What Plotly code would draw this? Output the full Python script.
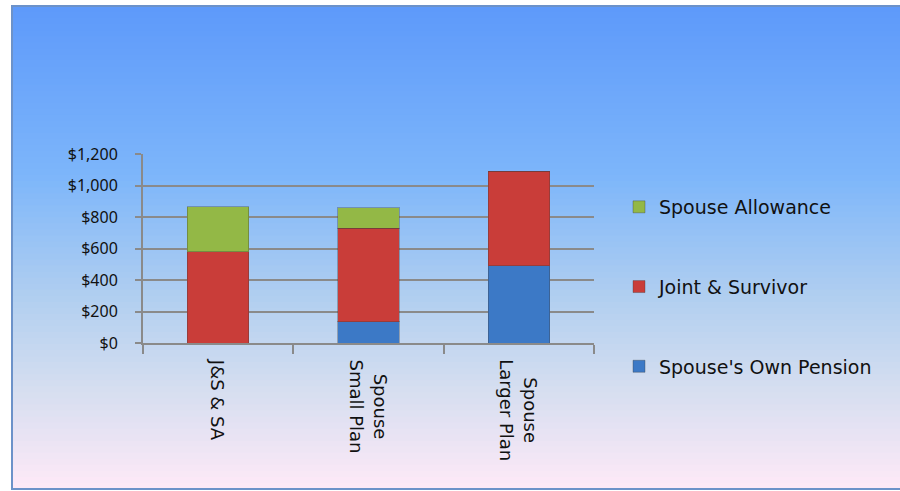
import plotly.graph_objects as go

categories = ["J&S & SA", "Spouse Small Plan", "Spouse Larger Plan"]
tick_text = ["J&S & SA", "Spouse<br>Small Plan", "Spouse<br>Larger Plan"]
own_pension = [0, 134, 490]
joint_survivor = [579, 594, 602]
spouse_allowance = [286, 131, 0]

W, H = 900, 491
L, R, T, B = 143, 306, 154, 148
pw, ph = W - L - R, H - T - B

def px_x(x):
    return (x - L) / pw

def px_y(y):
    return (H - B - y) / ph

# vertical background gradient (top -> bottom)
stops = [(0.0, (94, 154, 250)), (0.35, (125, 182, 250)), (0.6, (176, 206, 240)),
         (0.8, (214, 222, 240)), (1.0, (253, 233, 247))]

def grad(t):
    for (t0, c0), (t1, c1) in zip(stops, stops[1:]):
        if t <= t1:
            f = (t - t0) / (t1 - t0)
            return "rgb(%d,%d,%d)" % tuple(round(a + (b - a) * f) for a, b in zip(c0, c1))
    return "rgb(%d,%d,%d)" % stops[-1][1]

top_px, bot_px, left_px = 6, 489, 12
n = 80
shapes = []
for i in range(n):
    y0 = top_px + (bot_px - top_px) * i / n
    y1 = min(top_px + (bot_px - top_px) * (i + 1) / n + 2, bot_px)
    shapes.append(dict(type="rect", xref="paper", yref="paper", layer="below",
                       x0=px_x(left_px), x1=px_x(W + 2), y0=px_y(y0), y1=px_y(y1),
                       fillcolor=grad(i / (n - 1)), line=dict(width=0)))
shapes.append(dict(type="rect", xref="paper", yref="paper", layer="below",
                   x0=px_x(left_px), x1=px_x(W + 5), y0=px_y(top_px), y1=px_y(bot_px),
                   fillcolor="rgba(0,0,0,0)", line=dict(color="#6c92c9", width=2)))

fig = go.Figure()
series = [("Spouse's Own Pension", own_pension, "#3c79c6"),
          ("Joint & Survivor", joint_survivor, "#c93d39"),
          ("Spouse Allowance", spouse_allowance, "#93b846")]
for i, (name, vals, col) in enumerate(series):
    fig.add_trace(go.Bar(x=categories, y=vals, name=name, legendgroup=str(i),
                         legendrank=3 - i,
                         marker=dict(color=col, line=dict(color="rgba(60,60,60,0.35)", width=1))))

# rotated, centred category labels
annotations = [dict(x=c, y=0, xref="x", yref="paper", text=t, textangle=90,
                    showarrow=False, yanchor="top", yshift=-14, align="center",
                    font=dict(family="DejaVu Sans", size=18, color="#111"))
               for c, t in zip(categories, tick_text)]

fig.update_layout(
    width=W, height=H,
    margin=dict(l=L, r=R, t=T, b=B),
    barmode="stack", bargap=0.59,
    paper_bgcolor="white", plot_bgcolor="rgba(0,0,0,0)",
    shapes=shapes, annotations=annotations,
    font=dict(family="Noto Sans", size=16, color="#111"),
    legend=dict(x=px_x(619), y=px_y(188), xanchor="left", yanchor="top",
                traceorder="grouped", tracegroupgap=52, bgcolor="rgba(0,0,0,0)",
                font=dict(family="DejaVu Sans", size=19), itemwidth=30,
                maxheight=400),
    showlegend=True,
)
fig.update_yaxes(range=[0, 1200], dtick=200, tickprefix="$", tickformat=",",
                 showgrid=True, gridcolor="#8a8a8a", gridwidth=2,
                 showline=True, linecolor="#8a8a8a", linewidth=2,
                 ticks="outside", ticklen=6, tickcolor="#8a8a8a", tickwidth=2,
                 ticklabelstandoff=14, zeroline=False)
fig.update_xaxes(showticklabels=False, tickson="boundaries", ticks="outside", ticklen=9,
                 tickcolor="#8a8a8a", tickwidth=2, showline=True, linecolor="#8a8a8a",
                 linewidth=2, showgrid=False)

fig.write_html("out.html", config={"displayModeBar": False},
               post_script="document.body.style.margin='0';document.body.style.overflow='hidden';")
